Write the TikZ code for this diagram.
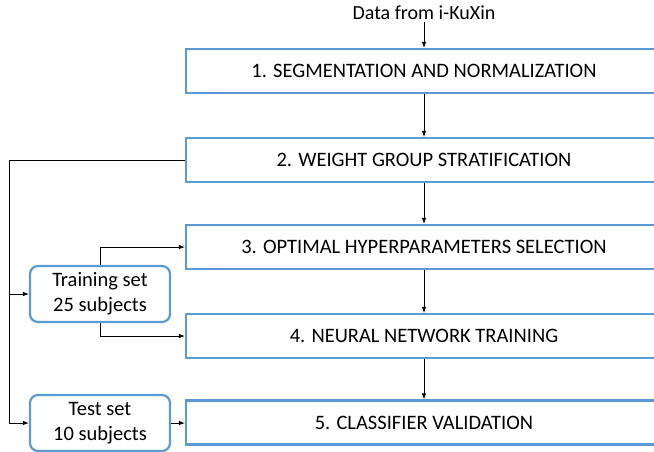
\documentclass[tikz,border=0pt]{standalone}
\usepackage{fontspec}
\setmainfont{Carlito}
\usetikzlibrary{arrows.meta}
\definecolor{boxblue}{HTML}{5B9BD5}
\begin{document}
\begin{tikzpicture}[x=1pt,y=-1pt,
  stepbox/.style={draw=boxblue,line width=2.2pt,fill=white,minimum height=44pt,font=\fontsize{20.5}{25}\selectfont},
  setbox/.style={draw=boxblue,line width=2.2pt,rounded corners=8pt,fill=white,minimum width=140pt,minimum height=56pt,align=center,font=\fontsize{20.5}{25}\selectfont,inner sep=1pt},
  conn/.style={line width=0.8pt,-{Latex[length=6pt,width=4.5pt]}},
  plain/.style={line width=0.8pt}]
\useasboundingbox (0,0) rectangle (654,451);
\begin{scope}
\clip (0,0) rectangle (654,451);
\node[stepbox,minimum width=476pt] (s1) at (424,71) {1. SEGMENTATION AND NORMALIZATION};
\node[stepbox,minimum width=476pt] (s2) at (424,160) {2. WEIGHT GROUP STRATIFICATION};
\node[stepbox,minimum width=476pt] (s3) at (424,247) {3. OPTIMAL HYPERPARAMETERS SELECTION};
\node[stepbox,minimum width=476pt] (s4) at (424,336) {4. NEURAL NETWORK TRAINING};
\node[stepbox,minimum width=476pt] (s5) at (424,422.5) {5. CLASSIFIER VALIDATION};
\end{scope}
\node[font=\fontsize{20}{24}\selectfont,inner sep=2pt] (data) at (424,13) {Data from i-KuXin};
\node[setbox] (train) at (100,294) {Training set\\25 subjects};
\node[setbox] (test) at (100,423) {Test set\\10 subjects};
\coordinate (L) at (9,160);
\draw[conn] (data.south) -- (s1.north);
\draw[conn] (s1.south) -- (s2.north);
\draw[conn] (s2.south) -- (s3.north);
\draw[conn] (s3.south) -- (s4.north);
\draw[conn] (s4.south) -- (s5.north);
\draw[plain] (s2.west) -- (L) -- (L |- test.west);
\draw[conn] (L |- train.west) -- (train.west);
\draw[conn] (L |- test.west) -- (test.west);
\draw[conn] (train.north) |- (s3.west);
\draw[conn] (train.south) |- (s4.west);
\draw[conn] (test.east) -- (s5.west |- test.east);
\end{tikzpicture}
\end{document}
